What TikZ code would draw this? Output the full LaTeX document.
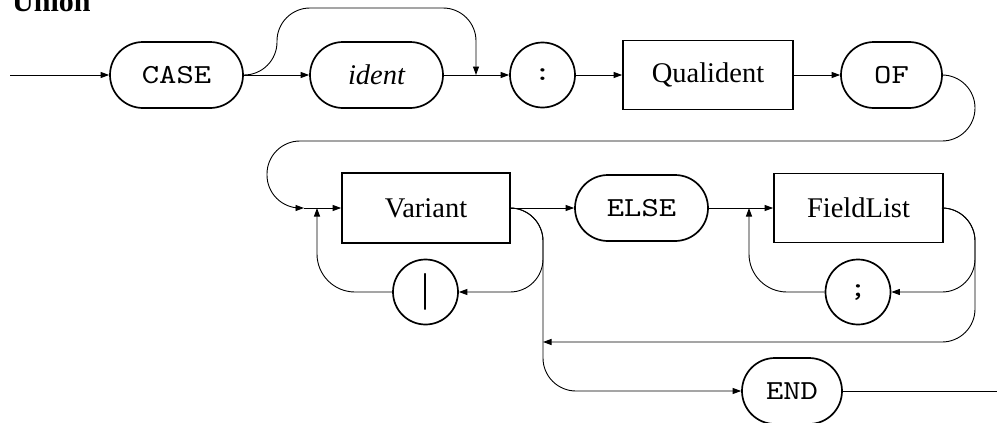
\documentclass[tikz,border=0pt]{standalone}
\usepackage{fontspec}
\setmainfont{Liberation Serif}
\setmonofont[FakeStretch=1.2]{lmmono10-regular.otf}
\usetikzlibrary{arrows.meta}
\begin{document}
\begin{tikzpicture}[x=1pt,y=-1pt,
  term/.style={draw, line width=1.7pt, rounded corners=33pt, minimum height=66pt, inner sep=0pt, font=\fontsize{27.5}{33}\selectfont\ttfamily},
  circ/.style={draw, circle, line width=1.7pt, minimum size=65pt, inner sep=0pt, font=\fontsize{27.5}{33}\selectfont\ttfamily},
  nterm/.style={draw, rectangle, line width=1.7pt, minimum height=69pt, inner sep=0pt, font=\fontsize{28.5}{34}\selectfont},
  conn/.style={line width=0.9pt, rounded corners=33pt},
  arr/.style={-{Triangle[length=8.5pt,width=6pt]}}]
\useasboundingbox (0,0) rectangle (997,423);
\node[anchor=base west, inner sep=0pt, font=\fontsize{30}{36}\selectfont\bfseries] (title) at (12,12) {Union};
% row 1
\node[term, minimum width=133pt] (CASE) at (176.5,75) {CASE};
\node[term, minimum width=133pt, font=\fontsize{28.5}{34}\selectfont\itshape] (ident) at (376.5,75) {ident};
\node[circ] (colon) at (542.5,75) {:};
\node[nterm, minimum width=170pt] (Qual) at (708,75) {Qualident};
\node[term, minimum width=101pt] (OF) at (891.5,75) {OF};
% row 2
\node[nterm, minimum width=168pt, minimum height=70pt] (Variant) at (426,208) {Variant};
\node[term, minimum width=133pt] (ELSE) at (641.5,208) {ELSE};
\node[nterm, minimum width=169pt] (Field) at (858.5,208) {FieldList};
\node[circ, font=\fontsize{40}{40}\selectfont\rmfamily] (bar) at (425.5,292) {|};
\node[circ] (semi) at (858,292) {;};
\node[term, minimum width=100pt] (END) at (792,391) {END};
% junction coordinates
\coordinate (entry) at (10,75);
\coordinate (exit) at (997,391);
\coordinate (jA) at (476,75);
\coordinate (jB) at (304,208);
\coordinate (jC) at (317,208);
\coordinate (jD) at (749,208);
\coordinate (jE) at (543,342);
% connectors row 1
\draw[conn,arr] (entry) -- (CASE.west);
\draw[conn,arr] (CASE.east) -- (ident.west);
\draw[conn,arr] (CASE.east) -- (277,75) -- (277,8) -- (476,8) -- (jA);
\draw[conn,arr] (ident.east) -- (colon.west);
\draw[conn,arr] (colon.east) -- (Qual.west);
\draw[conn,arr] (Qual.east) -- (OF.west);
\draw[conn,arr] (OF.east) -- (975,75) -- (975,141) -- (267,141) -- (267,208) -- (jB);
% row 2
\draw[conn,arr] (jB) -- (Variant.west);
\draw[conn,arr,rounded corners=38pt] (bar.west) -- (317,292) -- (jC);
\draw[conn,arr] (Variant.east) -- (543,208) -- (543,292) -- (bar.east);
\draw[conn,arr] (Variant.east) -- (543,208) -- (543,391) -- (END.west);
\draw[conn,arr] (Variant.east) -- (ELSE.west);
\draw[conn,arr] (ELSE.east) -- (Field.west);
\draw[conn,arr,rounded corners=38pt] (semi.west) -- (749,292) -- (jD);
\draw[conn,arr] (Field.east) -- (975,208) -- (975,292) -- (semi.east);
\draw[conn,arr] (Field.east) -- (975,208) -- (975,342) -- (jE);
\draw[conn] (END.east) -- (exit);
\end{tikzpicture}
\end{document}
